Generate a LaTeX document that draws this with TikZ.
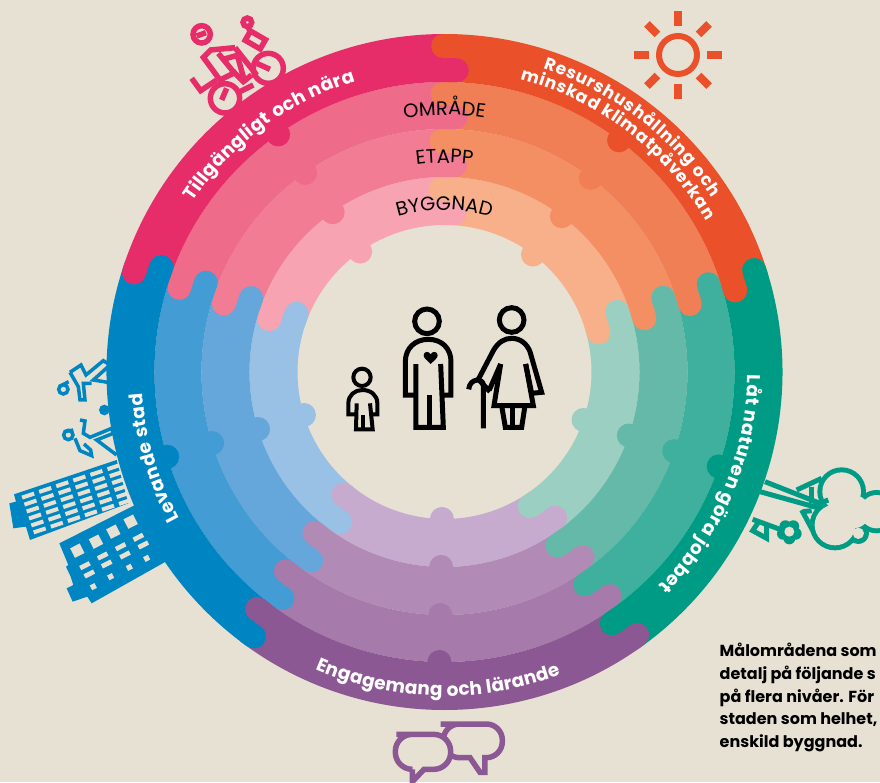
\documentclass[tikz,border=0pt]{standalone}
\usepackage{fontspec}
\usetikzlibrary{decorations.text}
\setmainfont{Poppins}
\definecolor{bgcol}{HTML}{E7E1D3}
\definecolor{pink1}{HTML}{E72D69}
\definecolor{pink2}{HTML}{EE6B8A}
\definecolor{pink3}{HTML}{F37C95}
\definecolor{pink4}{HTML}{F8A3B1}
\definecolor{orange1}{HTML}{EA512B}
\definecolor{orange2}{HTML}{F17F56}
\definecolor{orange3}{HTML}{F48F64}
\definecolor{orange4}{HTML}{F8B08A}
\definecolor{green1}{HTML}{009B84}
\definecolor{green2}{HTML}{3FB09E}
\definecolor{green3}{HTML}{65B9A8}
\definecolor{green4}{HTML}{9BCFC2}
\definecolor{purple1}{HTML}{8C5893}
\definecolor{purple2}{HTML}{A67BAC}
\definecolor{purple3}{HTML}{B18BB6}
\definecolor{purple4}{HTML}{C6ABCE}
\definecolor{blue1}{HTML}{0085C3}
\definecolor{blue2}{HTML}{439CD3}
\definecolor{blue3}{HTML}{65A7DB}
\definecolor{blue4}{HTML}{99C0E5}
\newcommand\bandfont{\fontsize{18.5}{18.5}\selectfont\bfseries\color{white}}
\newcommand\smallband{\fontsize{17}{17}\selectfont\bfseries\color{white}}
\newcommand\levelfont{\fontsize{19.5}{19.5}\selectfont\color{black}}
\tikzset{
  px/.style={shift={(-444.5,372)},yscale=-1},
  bandlabel/.style={decorate,decoration={text along path,text align={fit to path},text={|\bandfont|#1}}},
  smalllabel/.style={decorate,decoration={text along path,text align={fit to path},text={|\smallband|#1}}},
  levellabel/.style={decorate,decoration={text along path,text align=center,text={|\levelfont|#1}}},
  icon/.style={line width=5,line join=miter}
}
\begin{document}
\begin{tikzpicture}[x=1pt,y=1pt]
\useasboundingbox (-444.5,-410) rectangle (435.5,372);
\fill[bgcol] (-444.5,-410) rectangle (435.5,372);
% sun
\begin{scope}[px,shift={(678,55)},orange1]
  \draw[line width=6] (0,0) circle[radius=19];
  \foreach \ang in {0,45,...,315}
    \draw[line width=8] (\ang:29) -- (\ang:44);
\end{scope}
% bike
\begin{scope}[px,shift={(120,0)},scale=1/3,pink1,line width=5.5,line join=miter]
  \draw (245,103) circle[radius=26];
  \draw (230,108) -- (258,98);
  \draw (315,295) circle[radius=44];
  \draw (445,205) circle[radius=45];
  \draw (345,143) -- (272,150) -- (250,172) -- (300,240) -- (350,215);
  \draw (295,160) -- (340,215) -- (370,245) -- (395,225);
  \draw (310,178) -- (352,166) -- (372,238);
  \draw (345,143) -- (410,225);
  \draw (215,235) -- (242,272) -- (290,240);
  \draw (320,265) -- (305,300);
  \draw (410,190) -- (450,208);
  \draw (360,275) -- (400,255);
  \draw (382,67) circle[radius=13];
  \draw (385,82) -- (392,100);
  \draw[shift={(406,120)},rotate=30] (-26,-16) rectangle (26,16);
\end{scope}
% runners and buildings
\begin{scope}[px,scale=1/3,shift={(0,1020)},blue1,line width=3.5]
  \draw (190,148) circle[radius=14];
  \draw (178,140) -- (206,125);
  \draw (210,97) -- (243,75) -- (258,105) -- (310,62) -- (330,75) -- (280,120) -- (330,128);
  \draw (210,97) -- (235,140) -- (240,180) -- (255,180) -- (250,130) -- (275,130);
  \fill (313,210) circle[radius=16];
  \draw (205,285) circle[radius=14];
  \draw (192,275) -- (220,270);
  \draw (240,240) -- (255,243) -- (250,280) -- (270,292) -- (335,265) -- (340,280) -- (290,300) -- (350,345);
  \draw (225,295) -- (240,332) -- (275,347) -- (272,330) -- (252,312);
  % first block
  \fill (42,463) -- (350,360) -- (385,490) -- (90,600) -- (78,560) -- (40,565) -- (28,490) -- (48,485) -- cycle;
  \begin{scope}[shift={(42,463)},rotate=-18.4]
    \foreach \col in {0,...,5}
      \foreach \row in {0,...,5}
        \fill[bgcol] ({20+\col*54},{11+\row*22}) rectangle ++(38,12);
  \end{scope}
  % second block
  \fill (178,610) -- (405,495) -- (497,665) -- (275,790) -- (262,770) -- (218,785) -- (200,745) -- (220,735) -- (212,710) -- (198,680) -- (205,675) -- cycle;
  \foreach \x/\y/\w/\h in {232/632/16/16,288/605/16/16,340/575/16/16,392/545/16/16,
    255/677/16/7,268/702/16/7,308/648/16/7,320/672/16/7,362/620/16/7,375/645/16/7,415/592/16/7,430/615/16/7,
    280/740/8/8,332/710/8/8,388/682/8/8,440/655/8/8}
    \fill[bgcol,shift={(\x,\y)},rotate=-27] (-\w,-\h) rectangle (\w,\h);
\end{scope}
% tree, flower, leaf
\begin{scope}[px,shift={(600,440)},scale=1/3,green1,line width=5]
  \draw (495,125) -- (660,190);
  \draw (480,155) -- (660,205);
  \draw (590,150) -- (665,115);
  \draw (635,140) -- (635,190);
  \draw (605,210) -- (640,275);
  \draw (610,215) -- (635,212);
  \fill (725,155) circle[radius=73];
  \fill (830,215) circle[radius=65];
  \fill (705,255) circle[radius=76];
  \fill (775,280) circle[radius=32];
  \fill[bgcol] (725,155) circle[radius=58];
  \fill[bgcol] (830,215) circle[radius=50];
  \fill[bgcol] (705,255) circle[radius=61];
  \fill[bgcol] (775,280) circle[radius=17];
  \fill[bgcol] (760,215) circle[radius=50];
  \draw (640,197) -- (685,180);
  \foreach \ang in {18,90,162,234,306}
    \fill ([shift={(568,275)}]\ang:20) circle[radius=18];
  \fill[bgcol] (568,275) circle[radius=15];
  \draw (458,238) -- (540,268);
  \draw (475,247) -- (458,272) -- (500,295) -- (500,255);
\end{scope}
% speech bubbles
\begin{scope}[px,shift={(240,480)},scale=1/3,purple1,line width=5.5,line join=miter]
  \draw[rounded corners=16] (650,732) -- (787,732) -- (787,833) [sharp corners] -- (735,833) -- (735,877) -- (720,877) -- (690,833) [rounded corners=16] -- (610,833) -- (610,732) -- cycle;
  \fill[bgcol,rounded corners=17] (466,763) -- (632,763) -- (632,868) -- (466,868) -- cycle;
  \draw[rounded corners=17] (520,763) -- (632,763) -- (632,868) [sharp corners] -- (552,868) -- (517,905) -- (517,868) [rounded corners=17] -- (466,868) -- (466,763) -- cycle;
\end{scope}
% rings from the inside out
\foreach \ring/\ro/\ri in {4/195/147,3/243/195,2/290/243,1/338/290}{
  \pgfmathsetmacro\wd{(\ro-\ri)/2}
  \pgfmathsetmacro\rup{\ri+1.5*\wd}
  \pgfmathsetmacro\rlow{\ri+0.5*\wd}
  \foreach \sect/\a in {orange/17,pink/89,blue/161,purple/233,green/305}{
    \pgfmathsetmacro\b{\a+72}
    \fill[\sect\ring] (\a:\ro) arc[start angle=\a,end angle=\b,radius=\ro] -- (\b:\ri) arc[start angle=\b,end angle=\a,radius=\ri] -- cycle;
  }
  \foreach \sect/\a in {orange/17,pink/89,blue/161,purple/233,green/305}{
    \pgfmathsetmacro\b{\a+72}
    \pgfmathsetmacro\m{\a+36}
    \pgfmathsetmacro\bb{\b+7/\rup*57.3}
    \pgfmathsetmacro\aa{\a-7/\rlow*57.3}
    \draw[\sect\ring,line width=\wd,line cap=round] (\b:\rup) arc[start angle=\b,end angle=\bb,radius=\rup];
    \draw[\sect\ring,line width=\wd,line cap=round] (\a:\rlow) arc[start angle=\a,end angle=\aa,radius=\rlow];
    \fill[\sect\ring] (\m:\ri) circle[radius=12];
  }
}
% labels on the rings
\path[bandlabel={Tillgängligt och nära}] (146:304) arc[start angle=146,end angle=107,radius=304];
\path[smalllabel={Resurshushållning och}] (72:319) arc[start angle=72,end angle=33,radius=319];
\path[smalllabel={minskad klimatpåverkan}] (75.5:302) arc[start angle=75.5,end angle=30,radius=302];
\path[bandlabel={Låt naturen göra jobbet}] (-0.5:303) arc[start angle=-0.5,end angle=-45,radius=303];
\path[bandlabel={Engagemang och lärande}] (246.5:324) arc[start angle=246.5,end angle=291,radius=324];
\path[bandlabel={Levande stad}] (209:303) arc[start angle=209,end angle=184,radius=303];
\path[levellabel={OMRÅDE}] (115:257) arc[start angle=115,end angle=65,radius=257];
\path[levellabel={ETAPP}] (115:209) arc[start angle=115,end angle=65,radius=209];
\path[levellabel={BYGGNAD}] (130:162) arc[start angle=130,end angle=50,radius=162];
% people
\begin{scope}[px,shift={(330,290)},scale=1/3,black,icon]
  \draw (291,94) circle[radius=37];
  \draw (258,222) -- (258,412) -- (340,412) -- (332,222);
  \draw (258,315) -- (226,315) -- (226,215) .. controls (226,175) and (255,148) .. (295,148) .. controls (335,148) and (363,175) .. (363,215) -- (363,315) -- (334,315);
  \draw (298,315) -- (298,412);
  \fill (302,222) .. controls (290,210) and (281,204) .. (281,196) .. controls (281,184) and (297,182) .. (302,193) .. controls (307,182) and (323,184) .. (323,196) .. controls (323,204) and (314,210) .. (302,222) -- cycle;
  \draw (545,90) circle[radius=37];
  \draw (480,305) -- (445,268) -- (490,182) .. controls (505,155) and (525,145) .. (545,145) .. controls (570,145) and (590,160) .. (600,185) -- (635,307) -- (605,310) -- (587,222);
  \draw (512,222) -- (478,300);
  \draw (512,222) -- (492,347) -- (610,347) -- (587,222);
  \draw (515,347) -- (526,412) -- (575,412) -- (585,347);
  \draw (548,347) -- (548,412);
  \draw (460,415) -- (460,285) .. controls (460,265) and (420,262) .. (416,298);
  \begin{scope}[line width=4]
    \draw (96,262) circle[radius=26];
    \draw (80,340) -- (78,418) -- (128,418) -- (120,340);
    \draw (80,373) -- (55,373) -- (55,340) .. controls (55,315) and (75,300) .. (97,300) .. controls (122,300) and (142,315) .. (142,340) -- (142,373) -- (122,373);
    \draw (100,375) -- (100,418);
  \end{scope}
\end{scope}
% note
\node[anchor=north west,align=left,inner sep=0pt,font=\fontsize{16}{22.7}\selectfont\bfseries,text=black] (note) at (275,-271)
  {Målområdena som\\detalj på följande s\\på flera nivåer. För\\staden som helhet,\\enskild byggnad.};
\end{tikzpicture}
\end{document}
